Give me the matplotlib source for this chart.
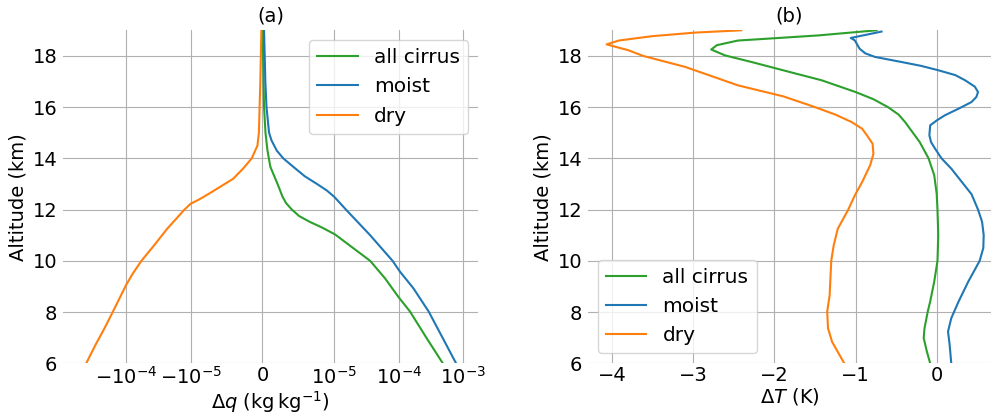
import matplotlib
matplotlib.use("Agg")
import matplotlib.pyplot as plt

plt.rcParams["font.size"] = 14
plt.rcParams["axes.grid"] = True

# (a) water vapour change, kg/kg
alt_q_cirrus = [19, 17, 16, 15, 14.3, 13.67, 13.0, 12.5, 12.25, 12.0, 11.75, 11.52, 11.3, 11.03, 10.0, 9.32,
                8.6, 8.02, 6.98, 6.0]
dq_cirrus = [4e-8, 1.5e-7, 2.2e-7, 4.2e-7, 7e-7, 1.1e-6, 2.1e-6, 2.8e-6, 3.3e-6, 4.1e-6, 5.1e-6, 6.6e-6,
             8.3e-6, 1.03e-5, 3.6e-5, 6.1e-5, 9.8e-5, 1.49e-4, 2.7e-4, 4.8e-4]
alt_q_moist = [19, 17, 16, 15, 14.7, 14.3, 14.0, 13.67, 13.3, 13.0, 12.75, 12.5, 12.0, 11.0, 10.0, 9.58,
               8.93, 8.02, 6.98, 6.0]
dq_moist = [2.2e-7, 4e-7, 5.6e-7, 9.2e-7, 1.26e-6, 2.0e-6, 2.9e-6, 4.3e-6, 5.9e-6, 7.6e-6, 8.95e-6, 1.0e-5,
            1.52e-5, 3.6e-5, 8.0e-5, 1.04e-4, 1.68e-4, 2.9e-4, 4.8e-4, 7.7e-4]
alt_q_dry = [19, 17, 15.5, 15, 14.5, 14, 13.6, 13.2, 12.63, 12.4, 12.23, 12.0, 11.26, 10.6, 10.0, 9.5,
             9.06, 8.41, 8.02, 7.37, 6.72, 6.0]
dq_dry = [-1.5e-7, -3e-7, -4.5e-7, -5e-7, -7e-7, -1.5e-6, -2.7e-6, -4.1e-6, -7.4e-6, -8.8e-6, -1.0e-5,
          -1.25e-5, -2.3e-5, -3.7e-5, -5.8e-5, -7.9e-5, -1.0e-4, -1.34e-4, -1.6e-4, -2.16e-4, -2.98e-4, -4.15e-4]

# (b) temperature change, K
alt_t_cirrus = [19, 18.8, 18.72, 18.6, 18.42, 18.25, 18.02, 17.76, 17.37, 17.05, 16.59, 16.31, 16.0, 15.71,
                15.42, 14.64, 14.0, 13.34, 12.62, 12.0, 11.0, 10.0, 9.19, 8.41, 8.02, 7.37, 6.98, 6.45, 6.0]
dt_cirrus = [-0.74, -1.46, -1.85, -2.45, -2.71, -2.78, -2.61, -2.28, -1.81, -1.42, -1.0, -0.78, -0.60, -0.47,
             -0.39, -0.21, -0.10, -0.03, 0.0, 0.01, 0.02, 0.01, -0.03, -0.08, -0.11, -0.15, -0.16, -0.12, -0.08]
alt_t_moist = [18.95, 18.7, 18.61, 18.28, 18.1, 17.96, 17.76, 17.61, 17.44, 17.25, 17.05, 16.8, 16.59, 16.4,
               16.2, 15.94, 15.68, 15.48, 15.29, 14.9, 14.64, 14.38, 14.0, 13.6, 12.6, 12.0, 11.52, 11.0,
               10.5, 10.0, 9.19, 8.41, 7.76, 7.24, 6.72, 6.0]
dt_moist = [-0.68, -1.06, -1.01, -0.95, -0.88, -0.76, -0.43, -0.19, 0.02, 0.23, 0.35, 0.47, 0.51, 0.49,
            0.43, 0.27, 0.10, 0.0, -0.08, -0.09, -0.07, -0.02, 0.06, 0.18, 0.43, 0.51, 0.56, 0.58,
            0.575, 0.53, 0.39, 0.27, 0.18, 0.14, 0.16, 0.18]
alt_t_dry = [19, 18.91, 18.77, 18.6, 18.45, 18.22, 18.0, 17.57, 16.85, 16.42, 16.0, 15.71, 15.42, 15.16,
             14.9, 14.57, 14.18, 13.73, 13.07, 12.55, 12.0, 11.25, 10.6, 10.0, 8.65, 8.02, 7.37, 6.84,
             6.45, 6.0]
dt_dry = [-2.41, -2.98, -3.51, -3.92, -4.07, -3.80, -3.62, -3.10, -2.45, -1.89, -1.50, -1.25, -1.05, -0.92,
          -0.86, -0.79, -0.78, -0.82, -0.92, -1.01, -1.09, -1.22, -1.27, -1.30, -1.32, -1.35, -1.34, -1.29,
          -1.22, -1.14]

q_ticks = [-1e-4, -1e-5, 0, 1e-5, 1e-4, 1e-3]
t_ticks = [-4, -3, -2, -1, 0]
alt_ticks = [6, 8, 10, 12, 14, 16, 18]

fig = plt.figure(figsize=(9.92, 4.15), dpi=100)
ax1 = fig.add_axes([0.0635, 0.1246, 0.4183, 0.8024])
ax2 = fig.add_axes([0.5927, 0.1246, 0.4063, 0.8024])

ax1.plot(dq_cirrus, alt_q_cirrus, color="tab:green", lw=1.5, label="all cirrus")
ax1.plot(dq_moist, alt_q_moist, color="tab:blue", lw=1.5, label="moist")
ax1.plot(dq_dry, alt_q_dry, color="tab:orange", lw=1.5, label="dry")
ax1.set_xscale("symlog", linthresh=1e-5)
ax1.set_xticks(q_ticks)
ax1.set_xlim(-9.5e-4, 1.68e-3)
ax1.set_xlabel(r"$\Delta q$ (kg$\,$kg$^{-1}$)", labelpad=1)
ax1.set_title("(a)", fontsize=14)
ax1.legend(loc="upper right", fontsize=14.5)

ax2.plot(dt_cirrus, alt_t_cirrus, color="tab:green", lw=1.5, label="all cirrus")
ax2.plot(dt_moist, alt_t_moist, color="tab:blue", lw=1.5, label="moist")
ax2.plot(dt_dry, alt_t_dry, color="tab:orange", lw=1.5, label="dry")
ax2.set_xticks(t_ticks)
ax2.set_xlim(-4.3, 0.67)
ax2.set_xlabel(r"$\Delta T$ (K)", labelpad=1)
ax2.set_title("(b)", fontsize=14)
ax2.legend(loc="lower left", fontsize=14.5)

for ax in (ax1, ax2):
    ax.set_ylim(6, 19)
    ax.set_yticks(alt_ticks)
    ax.set_ylabel("Altitude (km)")
    ax.tick_params(length=0, pad=4)
    ax.tick_params(axis="x", pad=2)
    ax.xaxis.set_tick_params(which="minor", length=0)
    for s in ax.spines.values():
        s.set_visible(False)

fig.savefig("out.png", dpi=100)
